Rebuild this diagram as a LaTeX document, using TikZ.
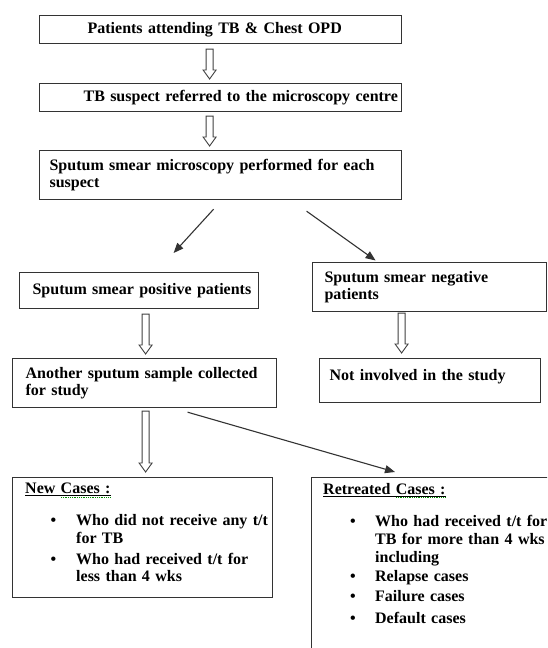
\documentclass[tikz,border=0pt]{standalone}
\usepackage{fontspec}
\setmainfont{Liberation Serif}
\usetikzlibrary{arrows.meta,calc}
\newcommand\ind[1]{\hspace*{#1pt}}
\newcommand\bulA{\hspace*{25.5pt}\makebox[25.5pt][l]{\textbullet}}
\newcommand\bulB{\hspace*{27pt}\makebox[25pt][l]{\textbullet}}
\begin{document}
\begin{tikzpicture}[x=1pt,y=1pt,
  txt/.style={anchor=north west, inner sep=0pt, align=left,
    font=\fontsize{16}{17.5}\selectfont\bfseries},
  box/.style={txt, draw=black!80, line width=1.2pt},
  frame/.style={draw=black!80, line width=1.2pt, anchor=north west, inner sep=0pt},
  hollow/.style={draw=black!75, line width=0.9pt, fill=white,
    to path={let \p1=(\tikztostart), \p2=(\tikztotarget) in
      (\x1-3.5pt,\y1) -- (\x1-3.5pt,\y2+9pt) -- (\x1-6.5pt,\y2+9pt) -- (\x1,\y2)
      -- (\x1+6.5pt,\y2+9pt) -- (\x1+3.5pt,\y2+9pt) -- (\x1+3.5pt,\y1) -- cycle}},
  thinarrow/.style={draw=black!80, line width=1.1pt, -{Triangle[length=10pt,width=8pt]}},
  spell/.style={draw=green!55!black, line width=0.8pt, densely dotted}]
\fill[white] (0,0) rectangle (547,648);
\path[use as bounding box, clip] (0,0) rectangle (547,648);

\node[box, minimum width=362, minimum height=28, text width=362] (b1) at (39,633)
  {\ind{48}Patients attending TB \& Chest OPD};
\node[box, minimum width=362, minimum height=28, text width=362] (b2) at (39,565)
  {\ind{44}TB suspect referred to the microscopy centre};
\node[box, minimum width=362, minimum height=49, text width=362] (b3) at (39,498)
  {\ind{10}Sputum smear microscopy performed for each\\\ind{10}suspect};
\node[box, minimum width=239, minimum height=36, text width=239] (pos) at (19,376)
  {\ind{13}Sputum smear positive patients};
\node[box, minimum width=234, minimum height=49, text width=234] (neg) at (312,386)
  {\ind{12}Sputum smear negative\\\ind{12}patients};
\node[box, minimum width=264, minimum height=49, text width=264] (another) at (12,290)
  {\ind{13}Another sputum sample collected\\\ind{13}for study};
\node[box, minimum width=221, minimum height=44, text width=221] (notinv) at (319,290)
  {\ind{10}Not involved in the study\\[-6pt]\mbox{}};

\node[frame, minimum width=260, minimum height=120] (newc) at (12,171) {};
\node[frame, minimum width=260, minimum height=200] (retr) at (311,171) {};

\node[txt, text width=260] (newcT) at (25,165)
  {\underline{New Cases :}\\[14.5pt]
   \bulA Who did not receive any t/t\\
   \ind{51}for TB\\[3.5pt]
   \bulA Who had received t/t for\\
   \ind{51}less than 4 wks};
\node[txt, text width=240] (retrT) at (323,165)
  {\underline{Retreated Cases :}\\[14.5pt]
   \bulB Who had received t/t for\\[0.5pt]
   \ind{52}TB for more than 4 wks\\[0.5pt]
   \ind{52}including\\[1.5pt]
   \bulB Relapse cases\\[2.5pt]
   \bulB Failure cases\\[4.5pt]
   \bulB Default cases};

\draw[spell] ([shift={(36,-14)}]newcT.north west) -- ([shift={(85,-14)}]newcT.north west);
\draw[spell] ([shift={(73,-14)}]retrT.north west) -- ([shift={(123,-14)}]retrT.north west);

\draw[hollow] ([shift={(-11,-5)}]b1.south) to ([yshift=4]b2.north);
\draw[hollow] ([shift={(-11,-4)}]b2.south) to ([yshift=4]b3.north);
\draw[hollow] ([shift={(6.5,-5)}]pos.south) to ([yshift=4]another.north);
\draw[hollow] ([shift={(-28,-1)}]neg.south) to ([yshift=5]notinv.north);
\draw[hollow] ([shift={(1,-3)}]another.south) to ([yshift=5]newc.north);

\draw[thinarrow] ([shift={(-7,-9)}]b3.south) -- ([shift={(34.5,19)}]pos.north);
\draw[thinarrow] ([shift={(86,-11)}]b3.south) -- ([shift={(-54,1.5)}]neg.north);
\draw[thinarrow] ([shift={(43,-4)}]another.south) -- ([shift={(84,5)}]retr.north west);
\end{tikzpicture}
\end{document}
